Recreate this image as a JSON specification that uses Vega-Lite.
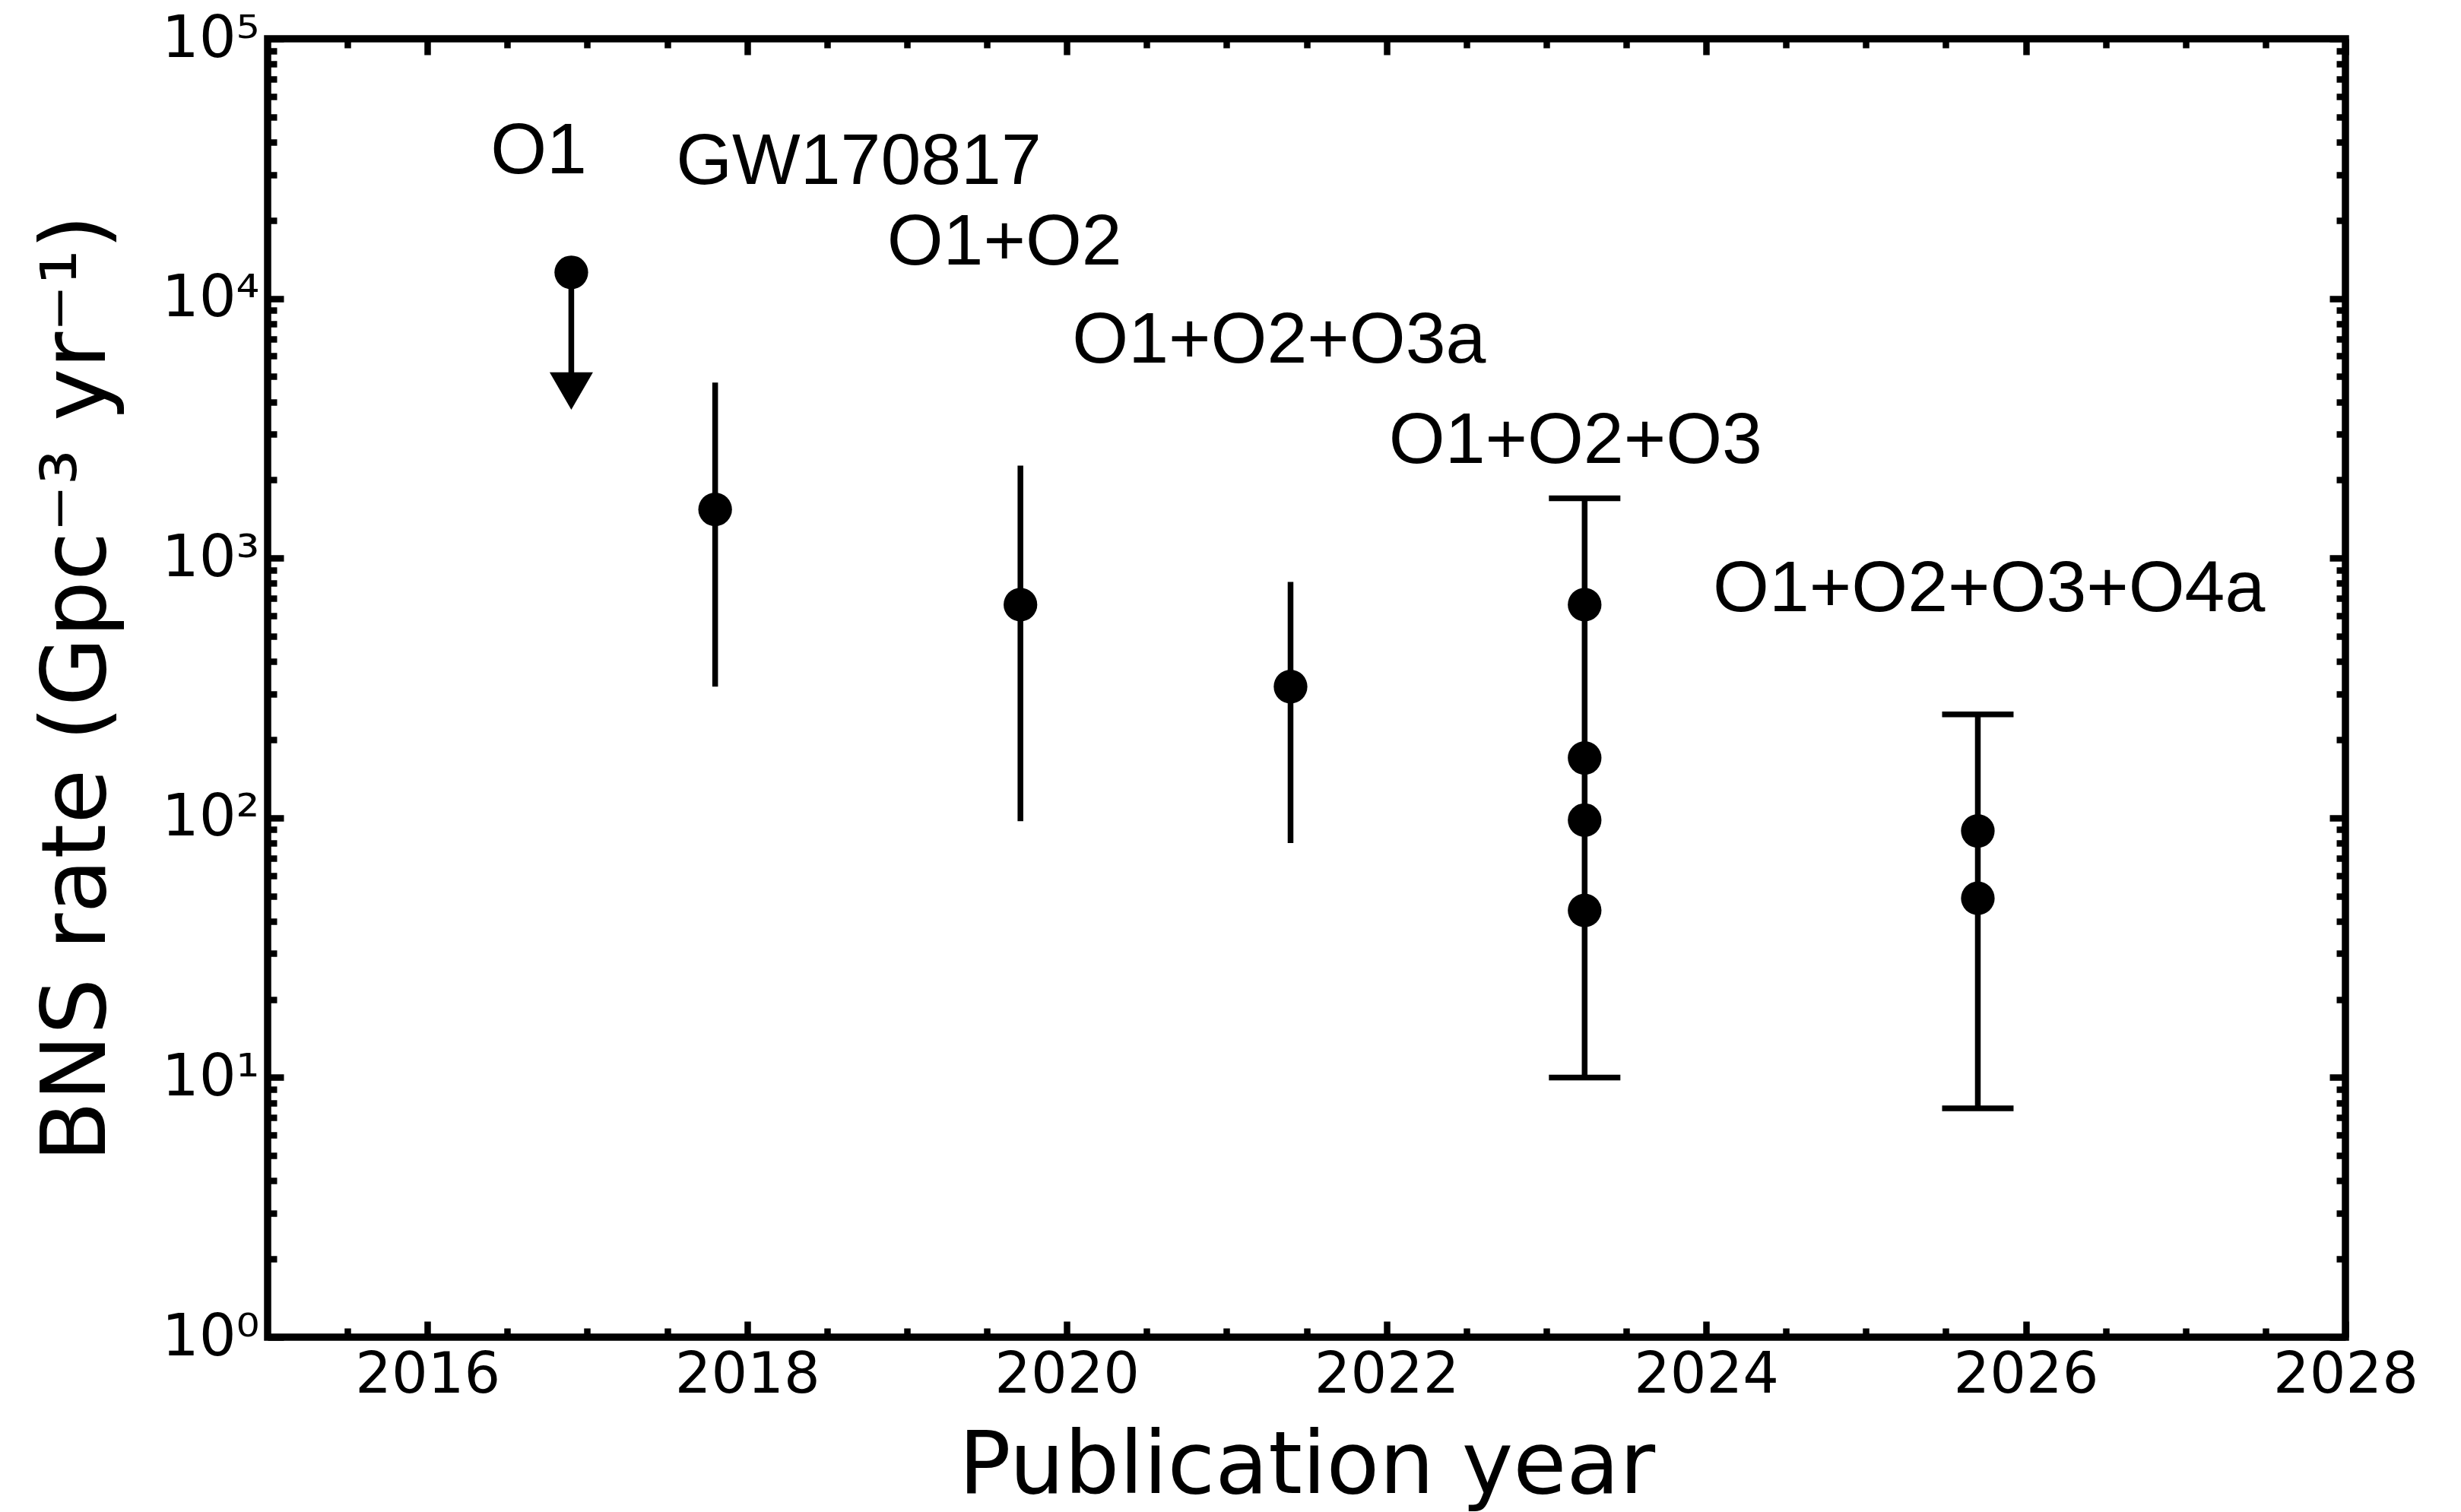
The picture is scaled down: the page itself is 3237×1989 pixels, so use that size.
{
  "$schema": "https://vega.github.io/schema/vega-lite/v6.json",
  "width": 2733,
  "height": 1708,
  "autosize": {"type": "none"},
  "padding": {"left": 352, "top": 51, "right": 152, "bottom": 230},
  "background": "white",
  "config": {
    "view": {"stroke": "black", "strokeWidth": 9.5},
    "axis": {"domain": false, "grid": false, "tickColor": "black", "labelColor": "black", "titleColor": "black", "labelFont": "DejaVu Sans", "titleFont": "DejaVu Sans", "titleFontWeight": "normal", "labelOverlap": false, "labelFlush": false, "labelBound": false, "labelLimit": 0, "titleLimit": 0}
  },
  "datasets": {
    "bars": [
      {"year": 2017.80, "lo": 320, "hi": 4740},
      {"year": 2019.71, "lo": 97, "hi": 2271},
      {"year": 2021.40, "lo": 80, "hi": 810},
      {"year": 2023.24, "lo": 10, "hi": 1700},
      {"year": 2025.70, "lo": 7.6, "hi": 250}
    ],
    "limits": [
      {"year": 2016.90, "rate": 12600, "arrow_to": 4400}
    ],
    "caps": [
      {"year": 2023.24, "value": 10},
      {"year": 2023.24, "value": 1700},
      {"year": 2025.70, "value": 7.6},
      {"year": 2025.70, "value": 250}
    ],
    "points": [
      {"year": 2016.90, "rate": 12600},
      {"year": 2017.80, "rate": 1540},
      {"year": 2019.71, "rate": 662},
      {"year": 2021.40, "rate": 320},
      {"year": 2023.24, "rate": 662},
      {"year": 2023.24, "rate": 170},
      {"year": 2023.24, "rate": 98},
      {"year": 2023.24, "rate": 44},
      {"year": 2025.70, "rate": 89},
      {"year": 2025.70, "rate": 49}
    ],
    "labels": [
      {"year": 2016.696, "rate": 30250, "label": "O1"},
      {"year": 2018.698, "rate": 27650, "label": "GW170817"},
      {"year": 2019.610, "rate": 13500, "label": "O1+O2"},
      {"year": 2021.328, "rate": 5656, "label": "O1+O2+O3a"},
      {"year": 2023.183, "rate": 2323, "label": "O1+O2+O3"},
      {"year": 2025.770, "rate": 624, "label": "O1+O2+O3+O4a"}
    ]
  },
  "layer": [
    {
      "data": {"name": "bars"},
      "mark": {"type": "rule", "color": "black", "strokeWidth": 7.5},
      "encoding": {
        "x": {
          "field": "year", "type": "quantitative",
          "scale": {"domain": [2015, 2028], "nice": false, "zero": false},
          "axis": {
            "orient": "bottom",
            "values": [2015.5, 2016, 2016.5, 2017, 2017.5, 2018, 2018.5, 2019, 2019.5, 2020, 2020.5, 2021, 2021.5, 2022, 2022.5, 2023, 2023.5, 2024, 2024.5, 2025, 2025.5, 2026, 2026.5, 2027, 2027.5, 2028],
            "labelExpr": "datum.value % 2 == 0 ? format(datum.value, 'd') : ''",
            "tickSize": {"condition": {"test": "datum.value % 2 == 0", "value": -21}, "value": -12},
            "tickWidth": 8.5,
            "labelFontSize": 75,
            "labelPadding": 34,
            "title": "Publication year",
            "titleFontSize": 114,
            "titleX": 1366.5,
            "titleY": 204,
            "titleBaseline": "alphabetic",
            "titleAlign": "center"
          }
        },
        "y": {
          "field": "lo", "type": "quantitative",
          "scale": {"type": "log", "domain": [1, 100000], "nice": false, "zero": false},
          "axis": {
            "orient": "left",
            "values": [1, 2, 3, 4, 5, 6, 7, 8, 9, 10, 20, 30, 40, 50, 60, 70, 80, 90, 100, 200, 300, 400, 500, 600, 700, 800, 900, 1000, 2000, 3000, 4000, 5000, 6000, 7000, 8000, 9000, 10000, 20000, 30000, 40000, 50000, 60000, 70000, 80000, 90000, 100000],
            "labelExpr": "abs(log(datum.value)/LN10 - round(log(datum.value)/LN10)) < 1e-6 ? '10' + ['⁰','¹','²','³','⁴','⁵'][round(log(datum.value)/LN10)] : ''",
            "tickSize": {"condition": {"test": "abs(log(datum.value)/LN10 - round(log(datum.value)/LN10)) < 1e-6", "value": -21}, "value": -12},
            "tickWidth": 8.5,
            "labelFontSize": 77,
            "labelPadding": 32,
            "title": "BNS rate (Gpc⁻³ yr⁻¹)",
            "titleFontSize": 117,
            "titleX": -215,
            "titleY": 854,
            "titleAngle": -90,
            "titleBaseline": "alphabetic",
            "titleAlign": "center"
          }
        },
        "y2": {"field": "hi"}
      }
    },
    {
      "data": {"name": "caps"},
      "mark": {"type": "tick", "color": "black", "orient": "horizontal", "size": 94, "thickness": 7.5, "opacity": 1},
      "encoding": {
        "x": {
          "field": "year", "type": "quantitative",
          "scale": {"domain": [2015, 2028], "nice": false, "zero": false},
          "axis": {
            "orient": "top",
            "values": [2015.5, 2016, 2016.5, 2017, 2017.5, 2018, 2018.5, 2019, 2019.5, 2020, 2020.5, 2021, 2021.5, 2022, 2022.5, 2023, 2023.5, 2024, 2024.5, 2025, 2025.5, 2026, 2026.5, 2027, 2027.5, 2028],
            "labels": false,
            "tickSize": {"condition": {"test": "datum.value % 2 == 0", "value": -21}, "value": -12},
            "tickWidth": 8.5,
            "title": null
          }
        },
        "y": {
          "field": "value", "type": "quantitative",
          "scale": {"type": "log", "domain": [1, 100000], "nice": false, "zero": false},
          "axis": {
            "orient": "right",
            "values": [1, 2, 3, 4, 5, 6, 7, 8, 9, 10, 20, 30, 40, 50, 60, 70, 80, 90, 100, 200, 300, 400, 500, 600, 700, 800, 900, 1000, 2000, 3000, 4000, 5000, 6000, 7000, 8000, 9000, 10000, 20000, 30000, 40000, 50000, 60000, 70000, 80000, 90000, 100000],
            "labels": false,
            "tickSize": {"condition": {"test": "abs(log(datum.value)/LN10 - round(log(datum.value)/LN10)) < 1e-6", "value": -21}, "value": -12},
            "tickWidth": 8.5,
            "title": null
          }
        }
      }
    },
    {
      "data": {"name": "limits"},
      "mark": {"type": "rule", "color": "black", "strokeWidth": 7.5},
      "encoding": {
        "x": {"field": "year", "type": "quantitative", "scale": {"domain": [2015, 2028], "nice": false, "zero": false}, "axis": null},
        "y": {"field": "rate", "type": "quantitative", "scale": {"type": "log", "domain": [1, 100000], "nice": false}, "axis": null},
        "y2": {"field": "arrow_to"}
      }
    },
    {
      "data": {"name": "limits"},
      "mark": {"type": "point", "shape": "triangle-down", "filled": true, "color": "black", "size": 3249, "opacity": 1},
      "encoding": {
        "x": {"field": "year", "type": "quantitative", "scale": {"domain": [2015, 2028], "nice": false, "zero": false}, "axis": null},
        "y": {"field": "arrow_to", "type": "quantitative", "scale": {"type": "log", "domain": [1, 100000], "nice": false}, "axis": null}
      }
    },
    {
      "data": {"name": "points"},
      "mark": {"type": "circle", "color": "black", "size": 1960, "opacity": 1},
      "encoding": {
        "x": {"field": "year", "type": "quantitative", "scale": {"domain": [2015, 2028], "nice": false, "zero": false}, "axis": null},
        "y": {"field": "rate", "type": "quantitative", "scale": {"type": "log", "domain": [1, 100000], "nice": false}, "axis": null}
      }
    },
    {
      "data": {"name": "labels"},
      "mark": {"type": "text", "color": "black", "font": "Liberation Sans", "fontSize": 95, "align": "center", "baseline": "alphabetic"},
      "encoding": {
        "x": {"field": "year", "type": "quantitative", "scale": {"domain": [2015, 2028], "nice": false, "zero": false}, "axis": null},
        "y": {"field": "rate", "type": "quantitative", "scale": {"type": "log", "domain": [1, 100000], "nice": false}, "axis": null},
        "text": {"field": "label", "type": "nominal"}
      }
    }
  ],
  "resolve": {"axis": {"x": "independent", "y": "independent"}}
}
